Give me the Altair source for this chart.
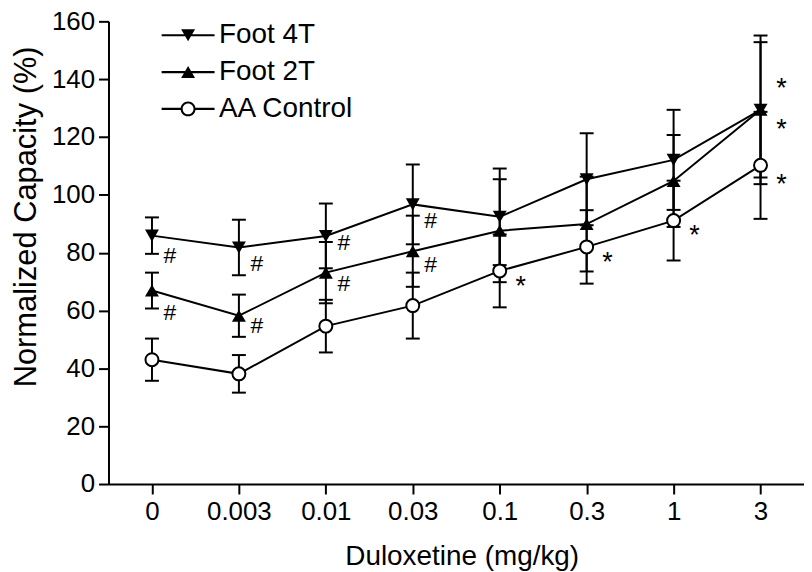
import altair as alt
import pandas as pd

doses = ["0", "0.003", "0.01", "0.03", "0.1", "0.3", "1", "3"]
series_names = ["Foot 4T", "Foot 2T", "AA Control"]

foot4t_mean = [85.9, 81.8, 85.8, 96.7, 92.4, 105.4, 112.1, 129.4]
foot4t_err = [6.3, 9.6, 11.2, 13.8, 16.7, 15.9, 17.3, 25.7]
foot2t_mean = [66.9, 58.2, 73.1, 80.5, 87.6, 89.9, 104.8, 129.4]
foot2t_err = [6.2, 7.3, 10.6, 12.3, 17.8, 16.4, 15.9, 23.4]
aa_mean = [43.0, 38.1, 54.6, 61.7, 73.7, 82.0, 91.1, 110.2]
aa_err = [7.3, 6.5, 9.1, 11.4, 12.6, 12.7, 13.8, 18.5]

hash_dose = ["0", "0", "0.003", "0.003", "0.01", "0.01", "0.03", "0.03"]
hash_y = [78.8, 59.0, 76.2, 54.8, 83.4, 69.2, 90.8, 75.7]
star_dose = ["0.1", "0.3", "1", "3", "3", "3"]
star_y = [69.7, 78.2, 87.4, 105.2, 124.1, 138.2]

rows = []
for name, means, errs in [("Foot 4T", foot4t_mean, foot4t_err),
                          ("Foot 2T", foot2t_mean, foot2t_err),
                          ("AA Control", aa_mean, aa_err)]:
    for d, m, e in zip(doses, means, errs):
        rows.append(dict(dose=d, series=name, mean=m, lo=m - e, hi=m + e))
df = pd.DataFrame(rows)

hash_df = pd.DataFrame({"dose": hash_dose, "ly": hash_y, "sym": ["#"] * len(hash_dose)})
star_df = pd.DataFrame({"dose": star_dose, "ly": star_y, "sym": ["*"] * len(star_dose)})

FONT = "Liberation Sans"

x_enc = alt.X("dose:N", sort=doses,
              scale=alt.Scale(type="point", padding=0.5),
              axis=alt.Axis(title="Duloxetine (mg/kg)", labelAngle=0))
y_axis = alt.Axis(title="Normalized Capacity (%)", values=list(range(0, 161, 20)))
y_scale = alt.Scale(domain=[0, 160], nice=False, zero=True)

base = alt.Chart(df)

lines = base.mark_line(color="black", strokeWidth=2).encode(
    x=x_enc,
    y=alt.Y("mean:Q", scale=y_scale, axis=y_axis),
    detail="series:N",
)

bars = base.mark_rule(color="black", strokeWidth=2).encode(
    x=x_enc,
    y=alt.Y("lo:Q", scale=y_scale, axis=y_axis),
    y2="hi:Q",
)

cap_lo = base.mark_tick(color="black", size=14, thickness=2, orient="horizontal", opacity=1).encode(
    x=x_enc, y=alt.Y("lo:Q", scale=y_scale, axis=y_axis))
cap_hi = base.mark_tick(color="black", size=14, thickness=2, orient="horizontal", opacity=1).encode(
    x=x_enc, y=alt.Y("hi:Q", scale=y_scale, axis=y_axis))

pts_4t = base.transform_filter(alt.datum.series == "Foot 4T").mark_point(
    shape="triangle-down", filled=True, color="black", size=196, opacity=1).encode(
    x=x_enc, y=alt.Y("mean:Q", scale=y_scale, axis=y_axis))
pts_2t = base.transform_filter(alt.datum.series == "Foot 2T").mark_point(
    shape="triangle-up", filled=True, color="black", size=196, opacity=1).encode(
    x=x_enc, y=alt.Y("mean:Q", scale=y_scale, axis=y_axis))
pts_aa = base.transform_filter(alt.datum.series == "AA Control").mark_point(
    shape="circle", filled=True, fill="white", stroke="black", strokeWidth=2, size=170, opacity=1).encode(
    x=x_enc, y=alt.Y("mean:Q", scale=y_scale, axis=y_axis))

hash_txt = alt.Chart(hash_df).mark_text(
    font=FONT, fontSize=23, color="black", dx=18, baseline="middle", dy=0).encode(
    x=x_enc, y=alt.Y("ly:Q", scale=y_scale, axis=y_axis), text="sym:N")
star_txt = alt.Chart(star_df).mark_text(
    font=FONT, fontSize=27, color="black", dx=21, baseline="middle", dy=5).encode(
    x=x_enc, y=alt.Y("ly:Q", scale=y_scale, axis=y_axis), text="sym:N")

# legend symbols as filled paths (line drawn as thin rectangle, circle as ring)
bar = "M-3.8,-0.15H3.8V0.15H-3.8Z"
path_4t = bar + "M0,0.866L-1,-0.866L1,-0.866Z"
path_2t = bar + "M0,-0.866L1,0.866L-1,0.866Z"
path_aa = ("M-3.8,-0.15H-1V0.15H-3.8Z"
           "M1,-0.15H3.8V0.15H1Z"
           "M-1.07,0A1.07,1.07,0,1,1,1.07,0A1.07,1.07,0,1,1,-1.07,0Z"
           "M-0.78,0A0.78,0.78,0,1,0,0.78,0A0.78,0.78,0,1,0,-0.78,0Z")

leg = alt.Legend(title=None, orient="none", legendX=66, legendY=0,
                 symbolSize=196, symbolStrokeWidth=0,
                 labelFont=FONT, labelFontSize=28, labelColor="black",
                 labelOffset=17, rowPadding=9)

legend_layer = base.transform_filter(alt.datum.mean < 0).mark_point(
    filled=True, color="black", opacity=1).encode(
    x=x_enc, y=alt.Y("mean:Q", scale=y_scale, axis=y_axis),
    shape=alt.Shape("series:N", scale=alt.Scale(domain=series_names,
                                                range=[path_4t, path_2t, path_aa]), legend=leg),
)

chart = alt.layer(lines, bars, cap_lo, cap_hi, pts_4t, pts_2t, pts_aa,
                  hash_txt, star_txt, legend_layer).properties(
    width=699, height=465,
    padding={"left": 101, "top": 12, "right": 0, "bottom": 86},
    autosize=alt.AutoSizeParams(type="none"),
).configure_view(stroke=None).configure_axis(
    domainColor="black", domainWidth=2, tickColor="black", tickWidth=2, tickSize=10,
    labelFont=FONT, labelFontSize=26, labelColor="black",
    titleFont=FONT, titleColor="black", titleFontWeight="normal", grid=False,
).configure_axisX(
    labelPadding=5, titleFontSize=28, titlePadding=18, titleX=355,
).configure_axisY(
    labelPadding=4, titleFontSize=31, titleX=-97, titleY=196,
    titleBaseline="top", titleAlign="center", titleAngle=270,
)

chart.save("out.html", embed_options={"renderer": "svg", "actions": False})
